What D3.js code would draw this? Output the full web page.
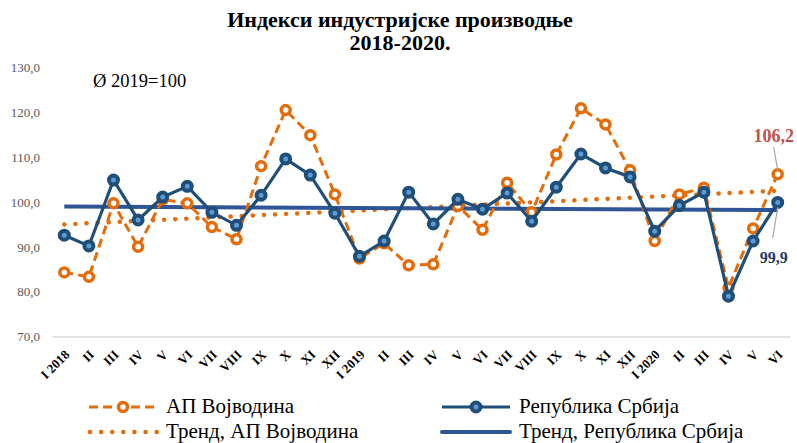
<!DOCTYPE html>
<html>
<head>
<meta charset="utf-8">
<script src="https://cdn.jsdelivr.net/npm/d3@7"></script>
<style>
  html, body { margin: 0; padding: 0; background: #ffffff; }
  svg { display: block; }
</style>
</head>
<body>
<svg id="chart" width="797" height="443"></svg>
<script>
// ---- Data ----
const categories = ["I 2018","II","III","IV","V","VI","VII","VIII","IX","X","XI","XII",
                    "I 2019","II","III","IV","V","VI","VII","VIII","IX","X","XI","XII",
                    "I 2020","II","III","IV","V","VI"];
const vojvodina = [84.3, 83.3, 99.7, 90.0, 100.6, 99.7, 94.4, 91.7, 108.0, 120.5, 114.9, 101.7,
                   87.4, 90.8, 85.9, 86.1, 99.1, 93.8, 104.3, 97.7, 110.6, 120.9, 117.3, 107.1,
                   91.3, 101.7, 103.2, 80.9, 94.1, 106.2];
const srbija    = [92.6, 90.2, 104.9, 96.0, 101.1, 103.5, 97.7, 94.8, 101.5, 109.6, 106.0, 97.5,
                   87.9, 91.3, 102.2, 95.1, 100.6, 98.4, 102.0, 95.7, 103.3, 110.7, 107.6, 105.6,
                   93.5, 99.2, 102.2, 79.0, 91.3, 99.9];
// linear trend lines: value at first and last month
const trendVojvodina = [95.0, 102.5];
const trendSrbija    = [99.0, 98.2];
const yTicks = [70, 80, 90, 100, 110, 120, 130];
const seriesNames = ["АП Војводина", "Република Србија", "Тренд, АП Војводина", "Тренд, Република Србија"];
const titleLines = ["Индекси индустријске производње", "2018-2020."];
const baseNote = "Ø 2019=100";

// ---- Styles ----
const SERIF = "Liberation Serif";
const ORANGE = "#E46C0A";
const NAVY = "#1F4E79";
const LIGHTBLUE = "#5B9BD5";
const TRENDBLUE = "#2F5597";

const svg = d3.select("#chart");
const plot = {left: 52, right: 790, top: 67.5, bottom: 336.5};

const x = d3.scaleBand().domain(d3.range(categories.length)).range([plot.left, plot.right]);
const cx = i => x(i) + x.bandwidth() / 2;
const y = d3.scaleLinear().domain([70, 130]).range([plot.bottom, plot.top]);

function txt(sel) { return sel.style("font-family", SERIF); }

// Title
txt(svg.append("g").selectAll("text").data(titleLines).join("text"))
  .attr("x", 400).attr("y", (d, i) => 27 + i * 23)
  .attr("text-anchor", "middle")
  .style("font-size", "22px").style("font-weight", "bold").attr("fill", "#000")
  .text(d => d);

// Y axis (labels only)
const yAxis = d3.axisLeft(y).tickValues(yTicks).tickSize(0).tickPadding(0)
  .tickFormat(d => d3.format(".1f")(d).replace(".", ","));
const gy = svg.append("g").attr("transform", `translate(${plot.left - 12},0)`).call(yAxis);
gy.select(".domain").remove();
txt(gy.selectAll("text")).style("font-size", "13px").attr("fill", "#595959");

// X axis baseline + labels
const xAxis = d3.axisBottom(x).tickSize(0).tickFormat(i => categories[i]);
const gx = svg.append("g").attr("transform", `translate(0,${plot.bottom})`).call(xAxis);
gx.select(".domain").attr("stroke", "#D9D9D9").attr("stroke-width", 1.5);
txt(gx.selectAll("text"))
  .style("font-size", "13px").style("font-weight", "bold").attr("fill", "#000")
  .attr("text-anchor", "end")
  .attr("dy", null).attr("y", 0)
  .attr("transform", "translate(6,19) rotate(-45)");

// Base note
txt(svg.append("text")).attr("x", 93).attr("y", 87)
  .style("font-size", "18.5px").attr("fill", "#000").text(baseNote);

const line = d3.line().x((d, i) => cx(i)).y(d => y(d));
const trendLine = d3.line().x(d => cx(d[0])).y(d => y(d[1]));
const last = categories.length - 1;

// Trend lines
svg.append("path").datum([[0, trendVojvodina[0]], [last, trendVojvodina[1]]])
  .attr("d", trendLine).attr("fill", "none").attr("stroke", ORANGE)
  .attr("stroke-width", 4.5).attr("stroke-linecap", "round").attr("stroke-dasharray", "0.1 11");
svg.append("path").datum([[0, trendSrbija[0]], [last, trendSrbija[1]]])
  .attr("d", trendLine).attr("fill", "none").attr("stroke", TRENDBLUE)
  .attr("stroke-width", 4);

// Vojvodina series
svg.append("path").datum(vojvodina).attr("d", line).attr("fill", "none")
  .attr("stroke", ORANGE).attr("stroke-width", 3).attr("stroke-dasharray", "9 5");
svg.append("g").selectAll("circle").data(vojvodina).join("circle")
  .attr("cx", (d, i) => cx(i)).attr("cy", d => y(d)).attr("r", 4.5)
  .attr("fill", "#fff").attr("stroke", ORANGE).attr("stroke-width", 3.5);

// Srbija series
svg.append("path").datum(srbija).attr("d", line).attr("fill", "none")
  .attr("stroke", NAVY).attr("stroke-width", 3.2);
svg.append("g").selectAll("circle").data(srbija).join("circle")
  .attr("cx", (d, i) => cx(i)).attr("cy", d => y(d)).attr("r", 4.5)
  .attr("fill", LIGHTBLUE).attr("stroke", NAVY).attr("stroke-width", 4);

// Annotations for last values
const lx = cx(last);
svg.append("line").attr("x1", lx - 4).attr("y1", 147).attr("x2", lx).attr("y2", y(vojvodina[last]) - 4)
  .attr("stroke", "#A6A6A6").attr("stroke-width", 1.2);
txt(svg.append("text")).attr("x", lx - 4).attr("y", 142).attr("text-anchor", "middle")
  .style("font-size", "18px").style("font-weight", "bold").attr("fill", "#C0504D")
  .text(d3.format(".1f")(vojvodina[last]).replace(".", ","));
svg.append("line").attr("x1", lx).attr("y1", y(srbija[last]) + 5).attr("x2", lx - 5).attr("y2", 238)
  .attr("stroke", "#A6A6A6").attr("stroke-width", 1.2);
txt(svg.append("text")).attr("x", lx - 4).attr("y", 263).attr("text-anchor", "middle")
  .style("font-size", "16px").style("font-weight", "bold").attr("fill", "#1F3864")
  .text(d3.format(".1f")(srbija[last]).replace(".", ","));

// Legend
const legendItems = [
  {name: seriesNames[0], x: 89, y: 407, type: "voj"},
  {name: seriesNames[1], x: 442, y: 407, type: "srb"},
  {name: seriesNames[2], x: 89, y: 432, type: "tvoj"},
  {name: seriesNames[3], x: 442, y: 432, type: "tsrb"}
];
const lg = svg.append("g");
legendItems.forEach(it => {
  const g = lg.append("g");
  const x0 = it.x, x1 = it.x + 68;
  if (it.type === "voj") {
    g.append("line").attr("x1", x0).attr("x2", x1).attr("y1", it.y).attr("y2", it.y)
      .attr("stroke", ORANGE).attr("stroke-width", 3).attr("stroke-dasharray", "9 5");
    g.append("circle").attr("cx", (x0 + x1) / 2).attr("cy", it.y).attr("r", 4.5)
      .attr("fill", "#fff").attr("stroke", ORANGE).attr("stroke-width", 3.5);
  } else if (it.type === "srb") {
    g.append("line").attr("x1", x0).attr("x2", x1).attr("y1", it.y).attr("y2", it.y)
      .attr("stroke", NAVY).attr("stroke-width", 3.2);
    g.append("circle").attr("cx", (x0 + x1) / 2).attr("cy", it.y).attr("r", 4.5)
      .attr("fill", LIGHTBLUE).attr("stroke", NAVY).attr("stroke-width", 4);
  } else if (it.type === "tvoj") {
    g.append("line").attr("x1", x0 + 1).attr("x2", x1).attr("y1", it.y).attr("y2", it.y)
      .attr("stroke", ORANGE).attr("stroke-width", 4.5).attr("stroke-linecap", "round")
      .attr("stroke-dasharray", "0.1 11");
  } else {
    g.append("line").attr("x1", x0).attr("x2", x1).attr("y1", it.y).attr("y2", it.y)
      .attr("stroke", TRENDBLUE).attr("stroke-width", 4).attr("stroke-linecap", "round");
  }
  txt(g.append("text")).attr("x", x1 + 9).attr("y", it.y + 6)
    .style("font-size", "21px").attr("fill", "#000").text(it.name);
});
</script>
</body>
</html>
